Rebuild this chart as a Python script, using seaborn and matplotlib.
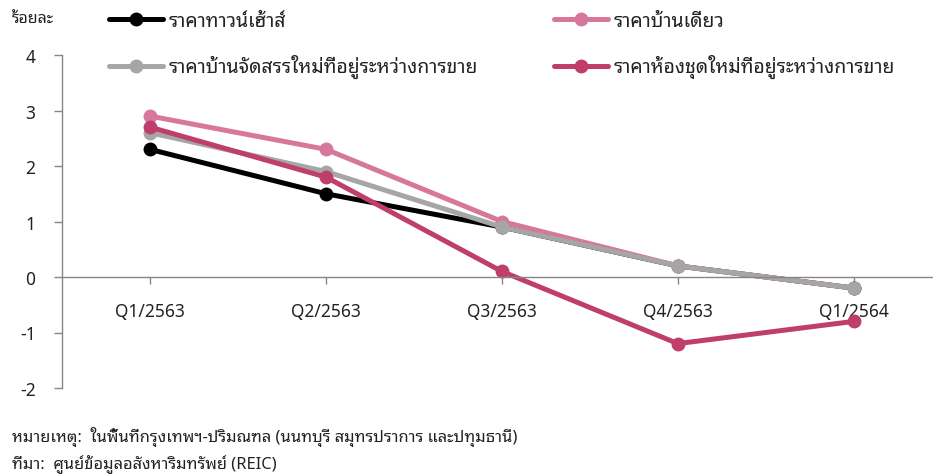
import matplotlib
matplotlib.use("Agg")
import matplotlib.pyplot as plt
import seaborn as sns
import pandas as pd

categories = ["Q1/2563", "Q2/2563", "Q3/2563", "Q4/2563", "Q1/2564"]
townhouse = [2.3, 1.5, 0.9, 0.2, -0.2]
single_house = [2.9, 2.3, 1.0, 0.2, -0.2]
new_house = [2.6, 1.9, 0.9, 0.2, -0.2]
condo = [2.7, 1.8, 0.1, -1.2, -0.8]

names = {
    "townhouse": "ราคาทาวน์เฮ้าส์",
    "single": "ราคาบ้านเดี่ยว",
    "newhouse": "ราคาบ้านจัดสรรใหม่ที่อยู่ระหว่างการขาย",
    "condo": "ราคาห้องชุดใหม่ที่อยู่ระหว่างการขาย",
}
colors = {
    "townhouse": "#000000",
    "single": "#d6779b",
    "newhouse": "#a6a6a6",
    "condo": "#bf3e6c",
}
series = {
    "townhouse": townhouse,
    "single": single_house,
    "newhouse": new_house,
    "condo": condo,
}

sns.set_theme(style="white")
plt.rcParams["font.family"] = ["Noto Sans Thai Looped", "Noto Sans Thai", "DejaVu Sans"]

fig = plt.figure(figsize=(9.33, 4.77), dpi=100)
W, H = 933, 477
left, right = 62, 933
top, bottom = 56, 389
ax = fig.add_axes([left / W, 1 - bottom / H, (right - left) / W, (bottom - top) / H])

rows = []
for key, vals in series.items():
    for c, v in zip(categories, vals):
        rows.append({"quarter": c, "value": v, "series": key})
df = pd.DataFrame(rows)
df["x"] = df["quarter"].map({c: i for i, c in enumerate(categories)})

handles = {}
for key in ["townhouse", "single", "newhouse", "condo"]:
    sub = df[df["series"] == key]
    sns.lineplot(data=sub, x="x", y="value", ax=ax, color=colors[key], lw=3.6,
                 marker="o", markersize=10, markeredgewidth=0, sort=False,
                 label=names[key], legend=False)
    handles[key] = ax.lines[-1]

ax.set_xlim(-0.5, 4.45)
ax.set_ylim(-2, 4)
ax.set_yticks([-2, -1, 0, 1, 2, 3, 4])
ax.set_yticklabels(["-2", "-1", "0", "1", "2", "3", "4"])
ax.set_xticks(range(len(categories)))
ax.set_xticklabels(categories)
ax.set_xlabel("")
ax.set_ylabel("")

for s in ["top", "right"]:
    ax.spines[s].set_visible(False)
ax.spines["left"].set_color("#868686")
ax.spines["left"].set_linewidth(1.0)
ax.spines["bottom"].set_position(("data", 0))
ax.spines["bottom"].set_color("#868686")
ax.spines["bottom"].set_linewidth(1.0)
ax.tick_params(axis="y", direction="out", length=6, width=1, color="#868686",
               labelsize=12.5, labelcolor="#222222", pad=13, left=True)
ax.tick_params(axis="x", direction="out", length=5, width=1, color="#868686",
               labelsize=12.5, labelcolor="#222222", pad=13, bottom=True)
ax.grid(False)

leg_kw = dict(frameon=False, fontsize=14, handlelength=2.8, handletextpad=0.25,
              labelspacing=1.2, borderpad=0, borderaxespad=0, loc="upper left")
leg1 = fig.legend([handles["townhouse"], handles["newhouse"]],
                  [names["townhouse"], names["newhouse"]],
                  bbox_to_anchor=(109 / W, 1 - 12 / H), **leg_kw)
leg2 = fig.legend([handles["single"], handles["condo"]],
                  [names["single"], names["condo"]],
                  bbox_to_anchor=(554 / W, 1 - 12 / H), **leg_kw)
for leg in (leg1, leg2):
    for t in leg.get_texts():
        t.set_color("#222222")

fig.text(12 / W, 1 - 20 / H, "ร้อยละ", fontsize=11.5, color="#222222", va="center", ha="left")
fig.text(12 / W, 1 - 437 / H, "หมายเหตุ:  ในพื้นที่กรุงเทพฯ-ปริมณฑล (นนทบุรี สมุทรปราการ และปทุมธานี)",
         fontsize=11.9, color="#222222", va="center", ha="left")
fig.text(12 / W, 1 - 465 / H, "ที่มา:  ศูนย์ข้อมูลอสังหาริมทรัพย์ (REIC)",
         fontsize=11.9, color="#222222", va="center", ha="left")

fig.savefig("out.png", dpi=100)
